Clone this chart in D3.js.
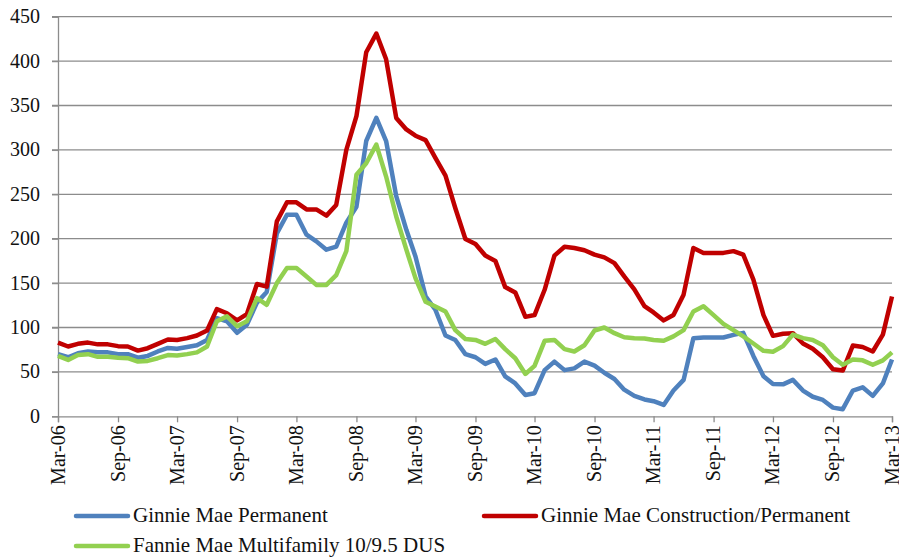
<!DOCTYPE html>
<html>
<head>
<meta charset="UTF-8">
<title>Spreads</title>
<script src="https://cdn.jsdelivr.net/npm/d3@7"></script>
<style>
body{margin:0;background:#fff;}
</style>
</head>
<body>
<div id="chart"></div>
<script>
var w=899,h=558;
var margin={left:58,right:7,top:16.7,bottom:141.7};
var fontFamily="'Liberation Serif'";
var axisFontSize=20, legendFontSize=21;

// monthly, Mar-06 .. Mar-13
var startMonth=new Date(2006,2,1), endMonth=new Date(2013,2,1);
var tickLabels=["Mar-06","Sep-06","Mar-07","Sep-07","Mar-08","Sep-08","Mar-09","Sep-09","Mar-10","Sep-10","Mar-11","Sep-11","Mar-12","Sep-12","Mar-13"];
var yTicks=[0,50,100,150,200,250,300,350,400,450];

var seriesNames=["Ginnie Mae Permanent","Ginnie Mae Construction/Permanent","Fannie Mae Multifamily 10/9.5 DUS"];
var seriesColors=["#4f81bd","#c00000","#92d050"];

var ginniePerm=[70,66.5,71,73,72,72,70,70,66,68,73,77,76,78,80,86,110.5,107,94,103,128,
  140,206,227,227,204.5,197,187.6,191,218,236,310,336,310,248,210,180,135,120,91,86,
  70,66.5,59,64,45,37,24,26,52,61.6,52,54,61.6,57,49,42,30,23,19,17,12.8,29,41,
  88,88.7,88.7,88.7,91.7,94,68,45,36.5,36,41,29,22,18.4,9.8,8,29,32.7,23,37,64];
var ginnieConst=[83,78.6,81.6,83,81,81,79,78.6,74,76.7,81.6,86.5,86,88,91,96.6,120.7,116,108,115,149,
  146,219.5,241,241,233,233,226,238,300,338,410,431,402,336,323,316,311,291,271,234.6,
  199.6,194,181,175,145.5,139.5,112,114,142.5,181,191,189.5,187,182,179,172.5,157.5,143,124,117,
  108,114,137,189.5,184,184,184,186,182,154,114,90.6,93,93.6,82,76,66.5,53,51.5,79.7,78,73,92,135];
var fannieDus=[68,63.5,69,70,67,67,66,65.4,61.6,62.4,65.4,69,68.4,70,72,78.6,107,112.5,101.5,107,133,
  125.6,150,167,167,157.5,148,148,159,186,272,285,306,270,225,187.6,155.6,129,123.7,118,97,
  87,86,81.6,87,75.6,65.4,47.7,56.8,85,86,75.6,73,80,96.6,100,93.6,89,88,87.6,86,
  85,90,97,118,124,114,104,97,90,82,73.7,72.6,79,92,88,86,80,66.5,58,64,63,58,63,72];

var months=d3.timeMonth.range(startMonth,d3.timeMonth.offset(endMonth,1));
var allSeries=[ginniePerm,ginnieConst,fannieDus];

var svg=d3.select('#chart').append('svg')
  .attr('width',w).attr('height',h);

var x=d3.scaleTime().domain([startMonth,endMonth]).range([margin.left,w-margin.right]);
var y=d3.scaleLinear().domain([0,450]).range([h-margin.bottom,margin.top]);

// gridlines
svg.append('g').selectAll('line')
  .data(yTicks.slice(1))
  .enter().append('line')
  .attr('x1',margin.left-6).attr('x2',w-margin.right)
  .attr('y1',function(d){return y(d);}).attr('y2',function(d){return y(d);})
  .attr('stroke','#8c8c8c').attr('stroke-width',1.3);

// y axis
var yAxis=svg.append('g')
  .attr('transform','translate('+margin.left+',0)')
  .call(d3.axisLeft(y).tickValues(yTicks).tickSize(6).tickPadding(12));
yAxis.attr('font-family',null).attr('font-size',null);
yAxis.select('.domain').attr('stroke','#8c8c8c').attr('stroke-width',1.3);
yAxis.selectAll('.tick line').attr('stroke','#8c8c8c').attr('stroke-width',1.3);
yAxis.selectAll('text')
  .attr('font-family',fontFamily).attr('font-size',axisFontSize).attr('fill','#111')
  .attr('dy',6);

// x axis
var xTickDates=tickLabels.map(function(d,i){return d3.timeMonth.offset(startMonth,i*6);});
var xAxis=svg.append('g')
  .attr('transform','translate(0,'+(h-margin.bottom)+')')
  .call(d3.axisBottom(x).tickValues(xTickDates).tickSize(6)
    .tickFormat(function(d,i){return tickLabels[i];}));
xAxis.attr('font-family',null).attr('font-size',null);
xAxis.select('.domain').attr('stroke','#8c8c8c').attr('stroke-width',1.3);
xAxis.selectAll('.tick line').attr('stroke','#8c8c8c').attr('stroke-width',1.3);
xAxis.selectAll('text')
  .attr('font-family',fontFamily).attr('font-size',axisFontSize).attr('fill','#111')
  .attr('transform','rotate(-90)')
  .attr('text-anchor','end')
  .attr('x',-9).attr('y',6).attr('dy',null);

// lines
var line=d3.line()
  .x(function(d,i){return x(months[i]);})
  .y(function(d){return y(d);});

svg.append('g').selectAll('path')
  .data(allSeries)
  .enter().append('path')
  .attr('d',line)
  .attr('fill','none')
  .attr('stroke',function(d,i){return seriesColors[i];})
  .attr('stroke-width',4.5)
  .attr('stroke-linejoin','round');

// legend
var legendPos=[[76,516],[484,516],[76,546]];
var legend=svg.append('g').selectAll('g')
  .data(seriesNames)
  .enter().append('g')
  .attr('transform',function(d,i){return 'translate('+legendPos[i][0]+','+legendPos[i][1]+')';});
legend.append('line')
  .attr('x1',0).attr('x2',52).attr('y1',0).attr('y2',0)
  .attr('stroke',function(d,i){return seriesColors[i];})
  .attr('stroke-width',4.5).attr('stroke-linecap','round');
legend.append('text')
  .attr('x',57).attr('y',6)
  .attr('font-family',fontFamily).attr('font-size',legendFontSize).attr('fill','#111')
  .text(function(d){return d;});
</script>
</body>
</html>
